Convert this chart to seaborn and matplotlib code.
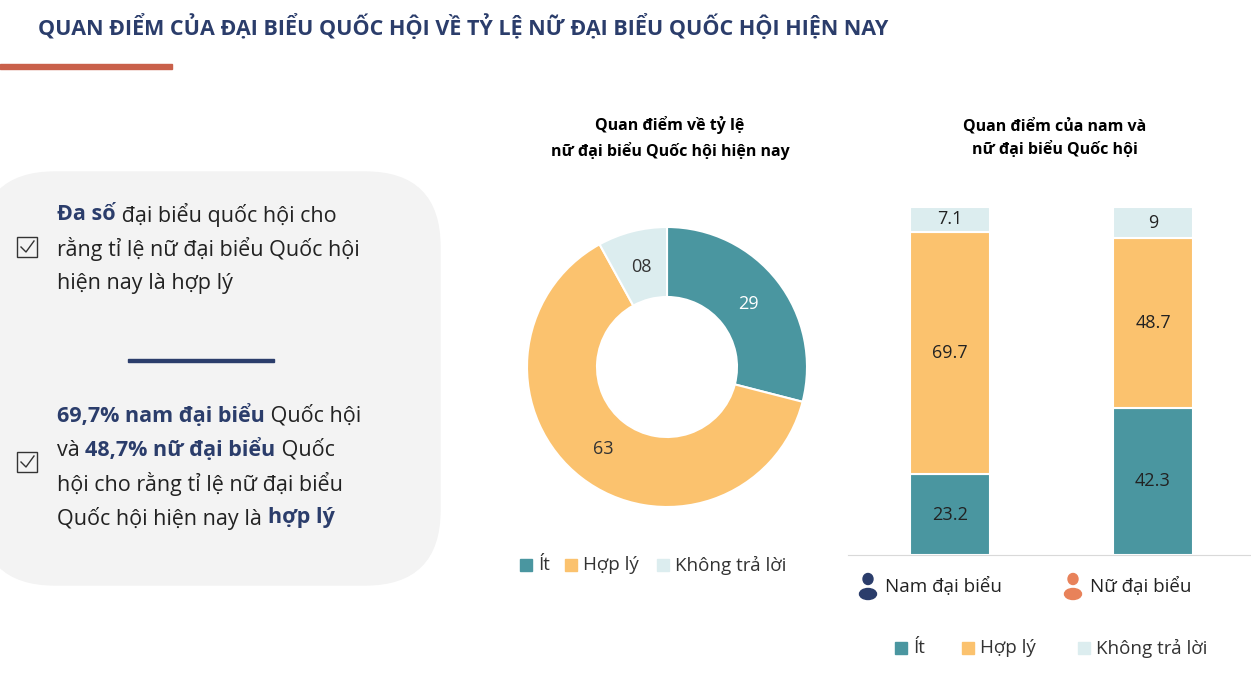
import matplotlib
matplotlib.use("Agg")
import matplotlib.pyplot as plt
import seaborn as sns
import pandas as pd
import numpy as np
from matplotlib.patches import FancyBboxPatch, Rectangle, Ellipse

plt.rcParams["font.family"] = "Open Sans"

# data
donut_labels = ["Ít", "Hợp lý", "Không trả lời"]
donut_values = [29, 63, 8]
donut_text = ["29", "63", "08"]
groups = ["Nam đại biểu", "Nữ đại biểu"]
it_vals = [23.2, 42.3]
hop_ly_vals = [69.7, 48.7]
khong_vals = [7.1, 9.0]
khong_text = ["7.1", "9"]

TEAL = "#4a96a0"
ORANGE = "#fbc26e"
LIGHT = "#dcedef"
NAVY = "#2b3d6b"
W, H = 1251, 685

fig = plt.figure(figsize=(W / 100, H / 100), dpi=100)
fig.patch.set_facecolor("white")


def px(x, y):
    return x / W, 1 - y / H


def box(x0, y0, x1, y1):
    return [x0 / W, 1 - y1 / H, (x1 - x0) / W, (y1 - y0) / H]


# title and red rule
fig.text(*px(38, 27), "QUAN ĐIỂM CỦA ĐẠI BIỂU QUỐC HỘI VỀ TỶ LỆ NỮ ĐẠI BIỂU QUỐC HỘI HIỆN NAY",
         fontsize=15.5, fontweight="bold", color=NAVY, va="center", ha="left")
fig.patches.append(Rectangle(px(0, 69), 172 / W, 5 / H, transform=fig.transFigure,
                             color="#c9604a"))

# left grey box
fig.patches.append(FancyBboxPatch(px(-20, 585), 460 / W, 413 / H, transform=fig.transFigure,
                                  boxstyle="round,pad=0,rounding_size=0.06",
                                  mutation_aspect=W / H, color="#f3f3f3", zorder=0))
fig.patches.append(Rectangle(px(128, 362), 146 / W, 3 / H, transform=fig.transFigure, color=NAVY))

# checkboxes
for cy in [247, 462]:
    fig.patches.append(Rectangle(px(17, cy + 10), 20 / W, 20 / H, transform=fig.transFigure,
                                 fill=False, ec="#333333", lw=1))
    fig.lines.append(plt.Line2D([21 / W, 26 / W, 34 / W], [1 - cy / H, 1 - (cy + 5) / H, 1 - (cy - 6) / H],
                                transform=fig.transFigure, color="#333333", lw=1))

fig.canvas.draw()
renderer = fig.canvas.get_renderer()


def runs(x, y, parts, size=15.5, right=None):
    texts = []
    cur = x / W
    for s, bold in parts:
        t = fig.text(cur, 1 - y / H, s, fontsize=size, va="center", ha="left",
                     fontweight="bold" if bold else "normal",
                     color=NAVY if bold else "#222222")
        cur += t.get_window_extent(renderer).width / W
        texts.append(t)


runs(57, 215, [("Đa số", True), (" đại biểu quốc hội cho", False)])
runs(57, 249, [("rằng tỉ lệ nữ đại biểu Quốc hội", False)])
runs(57, 283, [("hiện nay là hợp lý", False)])
runs(57, 416, [("69,7% nam đại biểu", True), (" Quốc hội", False)])
runs(57, 450, [("và ", False), ("48,7% nữ đại biểu", True), (" Quốc", False)])
runs(57, 484, [("hội cho rằng tỉ lệ nữ đại biểu", False)])
runs(57, 518, [("Quốc hội hiện nay là ", False), ("hợp lý", True)])

# donut
fig.text(*px(670, 138), "Quan điểm về tỷ lệ\nnữ đại biểu Quốc hội hiện nay", fontsize=11.5,
         fontweight="bold", ha="center", va="center", linespacing=1.5)
ax1 = fig.add_axes(box(527, 227, 807, 507))
ax1.pie(donut_values, colors=[TEAL, ORANGE, LIGHT], startangle=90, counterclock=False,
        wedgeprops=dict(width=0.5, edgecolor="white", linewidth=1.5))
cum = np.cumsum([0] + donut_values)
for i, lab in enumerate(donut_text):
    mid = 90 - (cum[i] + cum[i + 1]) / 2 * 3.6
    r = 0.74
    ax1.text(r * np.cos(np.radians(mid)), r * np.sin(np.radians(mid)), lab,
             ha="center", va="center", fontsize=13, color="white" if i == 0 else "#333333")
ax1.set_xlim(-1, 1)
ax1.set_ylim(-1, 1)


def legend(y, items, xs, size=13.5):
    for (lab, col), gx in zip(items, xs):
        fig.patches.append(Rectangle(px(gx, y + 6), 12 / W, 12 / H, transform=fig.transFigure, color=col))
        fig.text(*px(gx + 18, y), lab, fontsize=size, va="center", ha="left", color="#333333")


legend(565, list(zip(donut_labels, [TEAL, ORANGE, LIGHT])), [520, 565, 657])

# stacked bars
fig.text(*px(1055, 138), "Quan điểm của nam và\nnữ đại biểu Quốc hội", fontsize=11.5,
         fontweight="bold", ha="center", va="center", linespacing=1.5)
ax2 = fig.add_axes(box(848, 207, 1250, 555))
df = pd.DataFrame({"group": groups, "it": it_vals, "hop": hop_ly_vals, "khong": khong_vals})
sns.barplot(data=df, x="group", y="it", color=TEAL, width=0.394, ax=ax2, saturation=1)
sns.barplot(data=df, x="group", y="hop", bottom=df["it"], color=ORANGE, width=0.394, ax=ax2, saturation=1)
sns.barplot(data=df, x="group", y="khong", bottom=df["it"] + df["hop"], color=LIGHT, width=0.394,
            ax=ax2, saturation=1)
for p in ax2.patches:
    p.set_edgecolor("white")
    p.set_linewidth(1.5)
for i in range(2):
    ax2.text(i, it_vals[i] / 2, f"{it_vals[i]}", ha="center", va="center", fontsize=13, color="#222222")
    ax2.text(i, it_vals[i] + hop_ly_vals[i] / 2, f"{hop_ly_vals[i]}", ha="center", va="center",
             fontsize=13, color="#222222")
    ax2.text(i, it_vals[i] + hop_ly_vals[i] + khong_vals[i] / 2, khong_text[i], ha="center",
             va="center", fontsize=13, color="#222222")
ax2.set_xlim(-0.502, 1.478)
ax2.set_ylim(0, 100)
ax2.set_xlabel("")
ax2.set_ylabel("")
ax2.set_xticks([])
ax2.set_yticks([])
for s in ["top", "right", "left"]:
    ax2.spines[s].set_visible(False)
ax2.spines["bottom"].set_color("#d9d9d9")

# person icons and group labels
for cx, col, lab in [(868, NAVY, groups[0]), (1073, "#e8825a", groups[1])]:
    fig.patches.append(Ellipse(px(cx, 579), 10 / W, 11 / H, transform=fig.transFigure, color=col))
    fig.patches.append(Ellipse(px(cx, 594), 17 / W, 11 / H, transform=fig.transFigure, color=col))
    fig.text(*px(cx + 17, 587), lab, fontsize=13.5, va="center", ha="left", color="#222222")

legend(648, list(zip(donut_labels, [TEAL, ORANGE, LIGHT])), [895, 962, 1078])

fig.savefig("out.png", dpi=100)
